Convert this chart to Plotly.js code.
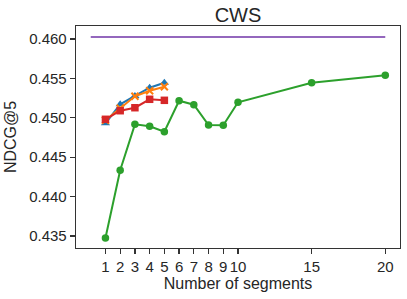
<!DOCTYPE html>
<html>
<head>
<meta charset="utf-8">
<script src="https://cdn.plot.ly/plotly-3.0.1.min.js"></script>
<style>html,body{margin:0;padding:0;background:#fff;}#chart{width:407px;height:299px;}</style>
</head>
<body>
<div id="chart"></div>
<script>
const segsAll = [1, 2, 3, 4, 5, 6, 7, 8, 9, 10, 15, 20];
const greenVals = [0.43475, 0.44334, 0.44917, 0.44892, 0.44824, 0.45217, 0.45166, 0.44909, 0.44905, 0.45197, 0.45444, 0.45539];
const segsShort = [1, 2, 3, 4, 5];
const blueVals = [0.4493, 0.45171, 0.45277, 0.45382, 0.45445];
const orangeVals = [0.4497, 0.45121, 0.45273, 0.45344, 0.45395];
const redVals = [0.44981, 0.45090, 0.45128, 0.45235, 0.45222];
const refX = [0, 20];
const refVal = 0.46025;
const xTicks = [1, 2, 3, 4, 5, 6, 7, 8, 9, 10, 15, 20];
const yTicks = [0.435, 0.440, 0.445, 0.450, 0.455, 0.460];

const FONT = '"Liberation Sans", Arial, sans-serif';
const traces = [
  {x: segsShort, y: blueVals, mode: 'lines+markers', line: {color: '#1f77b4', width: 2},
   marker: {symbol: 'triangle-up', size: 8, color: '#1f77b4'}},
  {x: segsShort, y: orangeVals, mode: 'lines+markers', line: {color: '#ff7f0e', width: 2},
   marker: {symbol: 'x-thin', size: 7, color: '#ff7f0e', line: {color: '#ff7f0e', width: 2}}},
  {x: segsShort, y: redVals, mode: 'lines+markers', line: {color: '#d62728', width: 2},
   marker: {symbol: 'square', size: 7.5, color: '#d62728'}},
  {x: segsAll, y: greenVals, mode: 'lines+markers', line: {color: '#2ca02c', width: 2},
   marker: {symbol: 'circle', size: 7.5, color: '#2ca02c'}},
  {x: refX, y: refX.map(() => refVal), mode: 'lines', line: {color: '#9467bd', width: 2}}
];

const layout = {
  width: 407, height: 299,
  margin: {l: 76, r: 7, t: 26, b: 51, pad: 0},
  paper_bgcolor: '#fff', plot_bgcolor: '#fff',
  showlegend: false,
  font: {family: FONT, color: '#262626', size: 15},
  title: {text: 'CWS', font: {family: FONT, size: 20, color: '#262626'},
          x: 0.5, xref: 'paper', y: 1, yref: 'paper', yanchor: 'bottom', pad: {b: 4}},
  xaxis: {
    range: [-1, 21], tickvals: xTicks, ticktext: xTicks.map(String),
    ticks: 'outside', ticklen: 5, tickwidth: 1.2, tickcolor: '#333',
    showgrid: false, zeroline: false, showline: true, linecolor: '#333', linewidth: 1.3, mirror: true,
    tickfont: {family: FONT, size: 15, color: '#262626'},
    title: {text: 'Number of segments', font: {family: FONT, size: 16, color: '#262626'}, standoff: 2}
  },
  yaxis: {
    range: [0.43348, 0.46165], tickvals: yTicks, ticktext: yTicks.map(v => v.toFixed(3)),
    ticks: 'outside', ticklen: 5, tickwidth: 1.2, tickcolor: '#333',
    showgrid: false, zeroline: false, showline: true, linecolor: '#333', linewidth: 1.3, mirror: true,
    tickfont: {family: FONT, size: 15, color: '#262626'},
    title: {text: 'NDCG@5', font: {family: FONT, size: 16, color: '#262626'}, standoff: 8}
  }
};

Plotly.newPlot('chart', traces, layout, {displayModeBar: false, staticPlot: true});
</script>
</body>
</html>
